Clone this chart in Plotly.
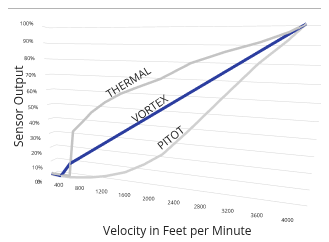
import math
import plotly.graph_objects as go

# ---- data ----
velocity_ticks = [0, 400, 800, 1200, 1600, 2000, 2400, 2800, 3200, 3600, 4000]
output_ticks = [0, 10, 20, 30, 40, 50, 60, 70, 80, 90, 100]

thermal_v = [0, 150, 380, 490, 680, 860, 1110, 1390, 1680, 2050, 2510, 3000, 3450, 3800, 4000]
thermal_o = [1, 1, 1, 33, 40, 47, 54, 60, 64.5, 70, 79.5, 86, 91, 96, 100]

vortex_v = [0, 200, 400, 4000]
vortex_o = [1, 0, 10, 100]

pitot_v = [0, 400, 800, 1100, 1460, 1800, 2110, 2510, 3000, 3450, 3800, 4000]
pitot_o = [0, 0, 2, 4.5, 9, 16, 24, 40, 61, 80, 92, 100]

series_labels = ["THERMAL", "VORTEX", "PITOT"]

# page is offset by the 8px body margin, so the figure is 8px smaller
OFF = 8
W, H = 329 - OFF, 242 - OFF
FONT = "Open Sans"

# ---- camera (perspective view from the front right, slightly above, small roll) ----
ALPHA = math.radians(15)
THETA = math.radians(12)
ROLL = math.radians(1.5)
DIST = 3.0
CZ = -0.137
eye = dict(x=DIST * math.sin(ALPHA) * math.cos(THETA),
           y=-DIST * math.cos(ALPHA) * math.cos(THETA),
           z=CZ + DIST * math.sin(THETA))
up = dict(x=-math.tan(ROLL) * math.cos(ALPHA), y=-math.tan(ROLL) * math.sin(ALPHA), z=1)

fig = go.Figure()

def ribbon(v, o, dark, light, wl, wd, name):
    fig.add_trace(go.Scatter3d(x=v, y=[0.0] * len(v), z=o, mode="lines",
                               line=dict(color=light, width=wl), name=name,
                               showlegend=False, hoverinfo="skip"))
    if dark:
        fig.add_trace(go.Scatter3d(x=v, y=[0.15] * len(v), z=o, mode="lines",
                                   line=dict(color=dark, width=wd), name=name,
                                   showlegend=False, hoverinfo="skip"))

ribbon(pitot_v, pitot_o, "#a4a4a4", "#d0d0d0", 5, 1.5, "PITOT")
ribbon(thermal_v, thermal_o, "#7c7c7c", "#c4c4c4", 5, 1.5, "THERMAL")
ribbon(vortex_v, vortex_o, None, "#2b3d9f", 6, 1, "VORTEX")

axis_common = dict(showbackground=False, showspikes=False, zeroline=False,
                   showline=False, ticks="", title=dict(text=""), tickangle=0)

fig.update_layout(
    width=W, height=H, autosize=False,
    margin=dict(l=0, r=0, t=0, b=0),
    paper_bgcolor="white",
    showlegend=False,
    scene=dict(
        domain=dict(x=[0, 1], y=[0, 1]),
        bgcolor="rgba(0,0,0,0)",
        dragmode="orbit",
        xaxis=dict(range=[0, 4345], tickvals=velocity_ticks,
                   ticktext=[str(v) for v in velocity_ticks], showgrid=False,
                   tickfont=dict(family=FONT, size=8, color="#222222"), **axis_common),
        yaxis=dict(range=[0, 1], showgrid=False, showticklabels=False, **axis_common),
        zaxis=dict(range=[0, 100], tickvals=output_ticks,
                   ticktext=[f"{t}%" for t in output_ticks], showgrid=True,
                   gridcolor="#d6d6d6", gridwidth=1,
                   tickfont=dict(family=FONT, size=8, color="#222222"), **axis_common),
        aspectmode="manual",
        aspectratio=dict(x=2.9, y=0.12, z=1.728),
        camera=dict(eye=eye,
                    center=dict(x=0, y=0, z=CZ),
                    up=up,
                    projection=dict(type="perspective")),
    ),
    shapes=[dict(type="line", xref="paper", yref="paper", layer="below",
                 x0=0, x1=1, y0=1 - 0.5 / H, y1=1 - 0.5 / H,
                 line=dict(color="#b4b4b4", width=1))],
)

def ann(text, px, py, angle, size, color="#222222"):
    fig.add_annotation(text=text, x=(px - OFF) / W, y=1 - (py - OFF) / H,
                       xref="paper", yref="paper",
                       showarrow=False, textangle=angle,
                       font=dict(family=FONT, size=size, color=color),
                       xanchor="center", yanchor="middle")

ann(series_labels[0], 128, 81, -31, 11)
ann(series_labels[1], 149, 108, -34, 11)
ann(series_labels[2], 170, 137, -38, 11)
ann("Sensor Output", 18, 106, -90, 12)
ann("Velocity in Feet per Minute", 178, 230, 0, 12)

fig.write_html("out.html")
